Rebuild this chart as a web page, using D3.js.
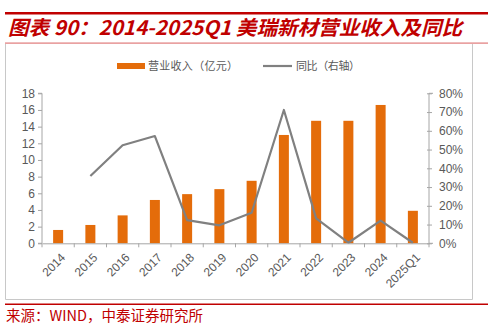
<!DOCTYPE html>
<html lang="zh">
  <head>
    <meta charset="utf-8">
    <title>美瑞新材营业收入及同比</title>
    <script type="text/javascript" src="https://cdn.jsdelivr.net/npm/d3@7/dist/d3.min.js"></script>
    <style>
      body { margin: 0; background: #fff; }
      text { font-family: "Liberation Sans", Arial, sans-serif; }
      .cjk { font-family: "Noto Sans CJK SC", sans-serif; }
    </style>
  </head>
  <body>
    <script type="text/javascript">
      var width = 488;
      var height = 327;

      var years = ["2014", "2015", "2016", "2017", "2018", "2019", "2020",
                   "2021", "2022", "2023", "2024", "2025Q1"];
      var revenue = [1.6, 2.2, 3.35, 5.2, 5.9, 6.5, 7.5, 13.0, 14.7, 14.7, 16.6, 3.9];
      // yoy, % (2014 has no value)
      var yoy = [null, 35.9, 52.3, 57.2, 12.4, 9.6, 16.3, 71.1, 13.3, 0.3, 12.1, 0.3];
      var leftTicks = [0, 2, 4, 6, 8, 10, 12, 14, 16, 18];
      var rightTicks = [0, 10, 20, 30, 40, 50, 60, 70, 80];

      var plot = { left: 42, right: 429, top: 93.3, bottom: 243.3 };
      var axisColor = "#a6a6a6";
      var labelColor = "#595959";

      var svg = d3.select("body")
            .append("svg")
            .attr("width", width)
            .attr("height", height);

      // header lines and title
      svg.append("rect").attr("x", 5).attr("y", 12).attr("width", 483).attr("height", 2.5)
         .attr("fill", "#c00000");
      svg.append("text")
         .attr("class", "cjk")
         .attr("x", 8)
         .attr("y", 35)
         .attr("fill", "#c00000")
         .attr("font-size", "20px")
         .attr("font-weight", "bold")
         .attr("font-style", "italic")
         .attr("textLength", 454)
         .attr("lengthAdjust", "spacingAndGlyphs")
         .text("图表 90：2014-2025Q1 美瑞新材营业收入及同比");
      svg.append("rect").attr("x", 5).attr("y", 42.5).attr("width", 483).attr("height", 1.2)
         .attr("fill", "#e07a7a");

      // chart frame
      svg.append("path")
         .attr("d", "M5.5,44 V299.5 H472.5 V44")
         .attr("fill", "none")
         .attr("stroke", "#c8c8c8")
         .attr("stroke-width", 1);

      // footer
      svg.append("rect").attr("x", 5).attr("y", 303.5).attr("width", 483).attr("height", 1.5)
         .attr("fill", "#c00000");
      svg.append("text")
         .attr("class", "cjk")
         .attr("x", 6)
         .attr("y", 320.5)
         .attr("fill", "#c00000")
         .attr("font-size", "14.5px")
         .text("来源：WIND，中泰证券研究所");

      // scales
      var xScale = d3.scaleBand()
                     .domain(years)
                     .range([plot.left, plot.right])
                     .paddingInner(0.69)
                     .paddingOuter(0.345);
      var xCenter = function(d) { return xScale(d) + xScale.bandwidth() / 2; };
      var yLeft = d3.scaleLinear().domain([0, 18]).range([plot.bottom, plot.top]);
      var yRight = d3.scaleLinear().domain([0, 80]).range([plot.bottom, plot.top]);

      // bars
      svg.selectAll("rect.bar")
         .data(revenue)
         .enter()
         .append("rect")
         .attr("class", "bar")
         .attr("x", function(d, i) { return xScale(years[i]); })
         .attr("y", function(d) { return yLeft(d); })
         .attr("width", xScale.bandwidth())
         .attr("height", function(d) { return plot.bottom - yLeft(d); })
         .attr("fill", "#e46c0a");

      // yoy line
      var line = d3.line()
                   .defined(function(d) { return d != null; })
                   .x(function(d, i) { return xCenter(years[i]); })
                   .y(function(d) { return yRight(d); });
      svg.append("path")
         .datum(yoy)
         .attr("d", line)
         .attr("fill", "none")
         .attr("stroke", "#808080")
         .attr("stroke-width", 2.2)
         .attr("stroke-linejoin", "round");

      // left axis
      var gl = svg.append("g")
         .attr("transform", "translate(" + plot.left + ",0)")
         .call(d3.axisLeft(yLeft).tickValues(leftTicks).tickSize(4).tickPadding(3));
      // right axis
      var gr = svg.append("g")
         .attr("transform", "translate(" + plot.right + ",0)")
         .call(d3.axisRight(yRight).tickValues(rightTicks)
                 .tickFormat(function(d) { return d + "%"; })
                 .tickSize(4).tickPadding(6));
      gr.selectAll(".tick line").attr("x1", -2).attr("x2", 3);

      // x axis with ticks at category boundaries
      var gx = svg.append("g")
         .attr("transform", "translate(0," + plot.bottom + ")")
         .call(d3.axisBottom(xScale).tickSize(0).tickPadding(0));
      gx.selectAll(".tick text")
         .attr("text-anchor", "end")
         .attr("transform", "translate(5,12) rotate(-45)")
         .attr("dy", "0.35em");
      var step = xScale.step();
      gx.selectAll("line.bound")
         .data(d3.range(years.length + 1))
         .enter()
         .append("line")
         .attr("class", "bound")
         .attr("x1", function(i) { return plot.left + i * step; })
         .attr("x2", function(i) { return plot.left + i * step; })
         .attr("y1", 0)
         .attr("y2", 4)
         .attr("stroke", axisColor);

      [gl, gr, gx].forEach(function(g) {
        g.select(".domain").attr("stroke", axisColor);
        g.selectAll(".tick line").attr("stroke", axisColor);
        g.selectAll(".tick text")
         .attr("fill", labelColor)
         .attr("font-size", "12px")
         .attr("font-family", "'Liberation Sans', Arial, sans-serif");
      });
      gl.select(".domain").attr("d", "M-4," + plot.top + "H0V" + plot.bottom + "H-4");
      gr.select(".domain").attr("d", "M4," + plot.top + "H0V" + plot.bottom + "H4");

      // legend
      var legend = svg.append("g");
      legend.append("rect").attr("x", 117).attr("y", 63).attr("width", 28).attr("height", 6)
            .attr("fill", "#e46c0a");
      legend.append("text").attr("class", "cjk").attr("x", 148).attr("y", 70)
            .attr("fill", labelColor).attr("font-size", "11px")
            .attr("textLength", 90).attr("lengthAdjust", "spacing")
            .text("营业收入（亿元）");
      legend.append("line").attr("x1", 263).attr("x2", 292).attr("y1", 66).attr("y2", 66)
            .attr("stroke", "#808080").attr("stroke-width", 2.2);
      legend.append("text").attr("class", "cjk").attr("x", 296).attr("y", 70)
            .attr("fill", labelColor).attr("font-size", "11px")
            .attr("textLength", 64).attr("lengthAdjust", "spacing")
            .text("同比（右轴）");
    </script>
  </body>
</html>
